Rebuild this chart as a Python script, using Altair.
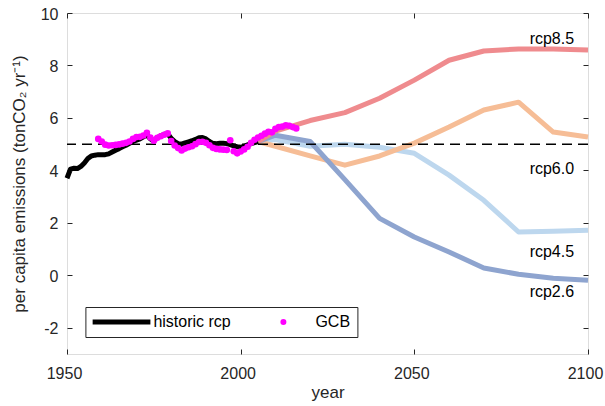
import altair as alt
import pandas as pd

# ---------------- data ----------------
hist_years = list(range(1950, 2006))
hist_vals = [3.70, 4.05, 4.08, 4.07, 4.15, 4.28, 4.45, 4.55, 4.58, 4.60,
             4.60, 4.60, 4.63, 4.70, 4.77, 4.83, 4.90, 4.96, 5.03, 5.10,
             5.15, 5.20, 5.28, 5.35, 5.20, 5.12, 5.25, 5.32, 5.38, 5.40,
             5.22, 5.10, 5.02, 5.00, 5.05, 5.09, 5.13, 5.18, 5.24, 5.25,
             5.20, 5.10, 5.03, 5.02, 5.03, 5.03, 5.02, 4.98, 4.93, 4.90,
             4.88, 4.92, 4.97, 5.02, 5.06, 5.10]

gcb_years = list(range(1959, 2017))
gcb_vals = [5.20, 5.10, 4.98, 4.95, 4.96, 4.97, 4.99, 5.02, 5.05, 5.10,
            5.20, 5.27, 5.28, 5.33, 5.43, 5.25, 5.13, 5.24, 5.30, 5.36,
            5.41, 5.12, 4.95, 4.85, 4.76, 4.83, 4.88, 4.92, 5.00, 5.08,
            5.09, 5.05, 4.96, 4.86, 4.82, 4.80, 4.79, 4.78, 5.15, 4.73,
            4.65, 4.72, 4.80, 4.90, 5.05, 5.17, 5.25, 5.32, 5.40, 5.47,
            5.45, 5.58, 5.65, 5.67, 5.72, 5.70, 5.65, 5.60]

rcp_years = [2005, 2010, 2020, 2030, 2040, 2050, 2060, 2070, 2080, 2090, 2100]
rcp45 = [5.10, 5.18, 4.92, 5.00, 4.88, 4.65, 3.82, 2.86, 1.65, 1.68, 1.72]
rcp60 = [5.10, 4.92, 4.55, 4.20, 4.55, 5.04, 5.65, 6.30, 6.60, 5.46, 5.27]
rcp26 = [5.10, 5.34, 5.10, 3.65, 2.17, 1.46, 0.89, 0.28, 0.04, -0.11, -0.19]
rcp85 = [5.10, 5.50, 5.90, 6.20, 6.75, 7.44, 8.20, 8.55, 8.63, 8.63, 8.59]

scen_names = ["rcp4.5", "rcp6.0", "rcp2.6", "rcp8.5"]
scen_vals = [rcp45, rcp60, rcp26, rcp85]
scen_colors = ["#bdd7ee", "#f6bd96", "#8ea4cf", "#ef8b8e"]

label_names = ["rcp8.5", "rcp6.0", "rcp4.5", "rcp2.6"]
label_years = [2096, 2096, 2096, 2096]
label_vals = [8.82, 3.85, 0.69, -0.84]

legend_names = ["historic rcp", "GCB"]

x_ticks = [1950, 2000, 2050, 2100]
y_ticks = [-2, 0, 2, 4, 6, 8, 10]
ref_level = [5]

FONT = "Liberation Sans"
INK = "#262626"

xscale = alt.Scale(domain=[1950, 2100], nice=False, zero=False)
yscale = alt.Scale(domain=[-3, 10], nice=False, zero=False)

ax_common = dict(domain=False, grid=False, offset=-5, tickSize=5, tickColor=INK,
                 tickWidth=1, labelFont=FONT, labelFontSize=16, labelColor=INK,
                 titleFont=FONT, titleFontSize=17, titleColor=INK,
                 titleFontWeight="normal", labelFlush=False,
                 labelExpr="'' + datum.value")

x_bottom = alt.Axis(values=x_ticks, title="year", labelPadding=11, labelOffset=-3,
                    titlePadding=3, **ax_common)
y_left = alt.Axis(values=y_ticks,
                  title="per capita emissions (tonCO₂ yr⁻¹)",
                  labelPadding=9, labelOffset=1, titlePadding=12, **ax_common)
x_top = alt.Axis(values=x_ticks, orient="top", labels=False, title="", **ax_common)
y_right = alt.Axis(values=y_ticks, orient="right", labels=False, title="", **ax_common)

layers = []

# scenario lines
for i, (name, vals, col) in enumerate(zip(scen_names, scen_vals, scen_colors)):
    df = pd.DataFrame({"year": rcp_years, "value": vals})
    if i == 0:
        xenc = alt.X("year:Q", scale=xscale, axis=x_bottom)
        yenc = alt.Y("value:Q", scale=yscale, axis=y_left)
    else:
        xenc = alt.X("year:Q", scale=xscale, axis=None)
        yenc = alt.Y("value:Q", scale=yscale, axis=None)
    layers.append(
        alt.Chart(df).mark_line(color=col, strokeWidth=5, strokeJoin="round")
        .encode(x=xenc, y=yenc)
    )

# dashed reference line
ref_df = pd.DataFrame({"value": ref_level})
layers.append(
    alt.Chart(ref_df).mark_rule(color="black", strokeWidth=1.5, strokeDash=[10, 6])
    .encode(y=alt.Y("value:Q", scale=yscale, axis=None))
)

# historic rcp line (carries top/right axes)
hist_df = pd.DataFrame({"year": hist_years, "value": hist_vals})
layers.append(
    alt.Chart(hist_df).mark_line(color="black", strokeWidth=5, strokeJoin="round")
    .encode(x=alt.X("year:Q", scale=xscale, axis=x_top),
            y=alt.Y("value:Q", scale=yscale, axis=y_right))
)

# GCB dots
gcb_df = pd.DataFrame({"year": gcb_years, "value": gcb_vals})
layers.append(
    alt.Chart(gcb_df).mark_circle(color="#ff00ff", size=44, opacity=1)
    .encode(x=alt.X("year:Q", scale=xscale, axis=None),
            y=alt.Y("value:Q", scale=yscale, axis=None))
)

# scenario labels
lab_df = pd.DataFrame({"year": label_years, "value": label_vals, "name": label_names})
layers.append(
    alt.Chart(lab_df).mark_text(align="right", baseline="alphabetic", font=FONT,
                                fontSize=16, color="black")
    .encode(x=alt.X("year:Q", scale=xscale, axis=None),
            y=alt.Y("value:Q", scale=yscale, axis=None),
            text="name:N")
)

# legend (symbols only, no marks drawn)
bar_path = "M-1,-0.086L1,-0.086L1,0.086L-1,0.086Z"
leg_df = pd.DataFrame({"name": legend_names})
layers.append(
    alt.Chart(leg_df).mark_point(filled=True, opacity=1)
    .encode(
        color=alt.Color("name:N",
                        scale=alt.Scale(domain=legend_names, range=["black", "#ff00ff"]),
                        legend=alt.Legend(title=None, orient="none", legendX=18.4,
                                          legendY=294, direction="horizontal",
                                          columns=2, padding=7, strokeColor=INK,
                                          fillColor="white", labelFont=FONT,
                                          labelFontSize=16, labelColor="black",
                                          labelOffset=3, columnPadding=23,
                                          clipHeight=16, symbolStrokeWidth=0)),
        shape=alt.Shape("name:N",
                        scale=alt.Scale(domain=legend_names, range=[bar_path, "circle"])),
        size=alt.Size("name:N",
                      scale=alt.Scale(type="ordinal", domain=legend_names, range=[3364, 36])),
    )
    .transform_filter("false")
)

chart = (
    alt.layer(*layers)
    .resolve_axis(x="independent", y="independent")
    .properties(width=521, height=341,
                autosize=alt.AutoSizeParams(type="none"),
                padding={"left": 67, "top": 13, "right": 17, "bottom": 52})
    .configure_view(stroke=INK, strokeWidth=1)
    .configure(background="white")
)

chart.save("out.html", embed_options={"renderer": "svg", "actions": False})
